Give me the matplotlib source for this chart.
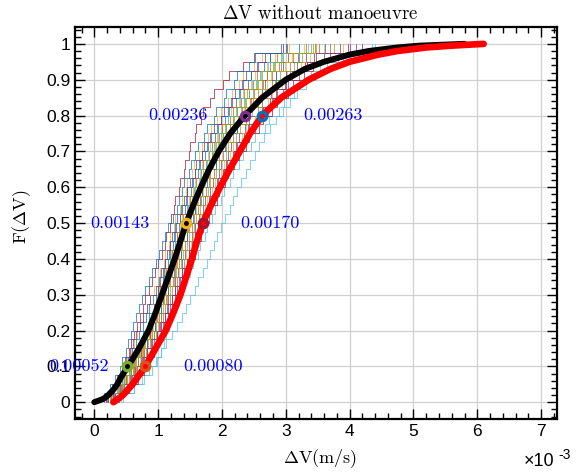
import numpy as np
import matplotlib
matplotlib.use("Agg")
import matplotlib.pyplot as plt

plt.rcParams["mathtext.fontset"] = "cm"

# x in units of 1e-3 m/s; thin ECDF samples stored in hundredths of 1e-3
matlab_colors = ["#0072BD", "#D95319", "#EDB120", "#7E2F8E",
                 "#77AC30", "#4DBEEE", "#A2142F"]

runs = [
    [22, 37, 44, 55, 58, 65, 74, 77, 84, 86, 93, 97, 100, 107, 109, 115, 118, 124, 126, 132, 135, 142, 145, 151, 155, 163, 166, 174, 178, 189, 194, 205, 211, 222, 229, 241, 246, 266, 276, 320],
    [29, 39, 51, 60, 65, 74, 79, 88, 91, 98, 101, 109, 111, 118, 121, 128, 131, 137, 140, 147, 150, 157, 161, 168, 172, 180, 186, 191, 200, 207, 218, 225, 236, 244, 257, 263, 278, 290, 312, 345],
    [19, 30, 38, 45, 51, 57, 62, 67, 72, 77, 82, 88, 94, 100, 103, 109, 111, 117, 119, 125, 127, 134, 137, 143, 146, 153, 156, 164, 168, 178, 183, 193, 198, 210, 215, 227, 233, 250, 262, 305],
    [31, 42, 55, 62, 73, 78, 88, 93, 101, 104, 111, 115, 122, 127, 131, 138, 142, 148, 153, 157, 164, 170, 174, 182, 186, 195, 199, 209, 214, 226, 236, 243, 256, 263, 277, 284, 300, 318, 332, 385],
    [27, 37, 49, 56, 61, 70, 77, 82, 88, 93, 96, 103, 105, 112, 117, 120, 126, 130, 133, 140, 144, 147, 155, 158, 165, 171, 175, 184, 188, 199, 205, 217, 222, 235, 240, 254, 260, 280, 292, 340],
    [45, 62, 75, 86, 96, 104, 113, 122, 130, 138, 144, 150, 157, 163, 170, 176, 182, 188, 193, 199, 205, 212, 218, 224, 230, 237, 244, 251, 258, 266, 275, 285, 295, 306, 318, 332, 347, 365, 390, 440],
    [32, 44, 57, 64, 76, 81, 91, 96, 104, 108, 115, 119, 127, 130, 138, 141, 149, 153, 157, 165, 168, 176, 180, 189, 193, 201, 206, 217, 222, 235, 241, 255, 262, 276, 284, 299, 306, 330, 344, 398],
    [22, 31, 40, 47, 53, 59, 65, 70, 76, 81, 86, 92, 100, 102, 108, 111, 117, 119, 125, 127, 134, 136, 144, 146, 153, 157, 164, 168, 176, 182, 192, 198, 209, 214, 226, 231, 245, 255, 276, 302],
    [27, 43, 51, 61, 68, 77, 82, 91, 95, 102, 105, 112, 115, 123, 126, 133, 136, 142, 146, 153, 156, 163, 167, 175, 179, 187, 191, 201, 206, 218, 224, 237, 243, 257, 263, 278, 285, 306, 320, 370],
    [24, 38, 45, 54, 60, 68, 73, 81, 84, 90, 93, 99, 102, 109, 111, 118, 120, 126, 129, 135, 138, 145, 148, 155, 158, 166, 169, 178, 182, 193, 198, 210, 214, 227, 233, 246, 252, 271, 283, 328],
    [33, 45, 59, 66, 78, 83, 93, 99, 107, 111, 118, 122, 130, 134, 141, 145, 153, 155, 163, 167, 175, 178, 187, 191, 200, 205, 214, 220, 231, 237, 252, 258, 272, 280, 295, 303, 320, 333, 360, 410],
    [28, 38, 50, 55, 65, 70, 79, 83, 90, 93, 100, 103, 110, 112, 119, 122, 129, 131, 138, 141, 147, 150, 158, 161, 169, 173, 180, 185, 194, 201, 212, 217, 230, 236, 249, 255, 270, 281, 304, 347],
    [42, 62, 78, 90, 98, 105, 109, 113, 117, 121, 126, 130, 138, 142, 150, 154, 162, 165, 173, 177, 185, 189, 199, 203, 212, 217, 227, 233, 245, 252, 267, 274, 289, 297, 313, 321, 340, 353, 382, 435],
    [18, 27, 36, 43, 48, 54, 58, 63, 67, 71, 76, 80, 85, 90, 95, 100, 106, 111, 113, 118, 120, 125, 127, 132, 134, 140, 142, 148, 150, 157, 160, 167, 171, 182, 188, 202, 211, 233, 250, 296],
    [30, 40, 52, 58, 68, 73, 83, 88, 95, 98, 105, 108, 115, 118, 125, 129, 136, 138, 145, 148, 155, 158, 166, 169, 177, 182, 190, 195, 205, 210, 223, 229, 242, 248, 262, 268, 284, 295, 319, 362],
    [26, 36, 46, 55, 62, 67, 75, 80, 85, 91, 94, 101, 103, 110, 112, 119, 122, 127, 130, 137, 139, 146, 150, 156, 160, 167, 171, 180, 184, 195, 200, 212, 217, 230, 235, 248, 255, 275, 286, 331],
    [29, 45, 54, 65, 72, 81, 87, 97, 100, 108, 111, 119, 122, 130, 133, 141, 144, 151, 154, 162, 165, 173, 177, 185, 189, 198, 203, 213, 218, 231, 237, 251, 257, 272, 279, 294, 302, 324, 338, 390],
    [20, 29, 37, 44, 50, 56, 61, 66, 71, 77, 82, 88, 96, 103, 105, 111, 114, 119, 122, 128, 130, 137, 140, 146, 150, 157, 160, 168, 172, 183, 187, 199, 203, 215, 220, 233, 238, 257, 268, 300],
    [28, 43, 52, 62, 69, 78, 84, 93, 97, 104, 107, 114, 118, 125, 128, 136, 139, 145, 148, 156, 159, 166, 171, 178, 182, 191, 195, 206, 210, 222, 228, 242, 247, 262, 268, 283, 291, 313, 326, 376],
    [27, 37, 48, 54, 63, 68, 76, 81, 87, 90, 97, 100, 106, 109, 116, 118, 125, 127, 134, 136, 143, 146, 153, 156, 164, 167, 175, 179, 189, 194, 206, 210, 223, 228, 242, 247, 261, 272, 294, 335],
    [38, 55, 68, 78, 86, 93, 99, 104, 110, 115, 121, 126, 133, 137, 145, 149, 157, 159, 167, 171, 179, 183, 192, 196, 205, 210, 219, 226, 237, 243, 258, 265, 279, 287, 303, 311, 328, 342, 370, 420],
    [15, 24, 32, 40, 44, 49, 53, 57, 61, 66, 70, 75, 80, 86, 91, 96, 101, 106, 111, 116, 123, 129, 132, 138, 141, 148, 151, 158, 162, 172, 177, 187, 191, 203, 207, 219, 224, 242, 251, 292],
    [26, 41, 49, 58, 64, 73, 78, 87, 90, 97, 100, 107, 110, 117, 120, 127, 130, 136, 139, 146, 148, 155, 159, 166, 170, 178, 182, 191, 196, 208, 213, 226, 231, 245, 250, 264, 271, 292, 304, 352],
    [28, 39, 52, 60, 66, 75, 80, 89, 92, 99, 102, 109, 112, 119, 122, 129, 132, 138, 141, 148, 152, 159, 163, 170, 174, 182, 186, 196, 200, 212, 217, 230, 235, 249, 256, 270, 277, 298, 310, 360],
    [30, 46, 56, 67, 74, 83, 89, 99, 103, 111, 114, 122, 126, 133, 137, 145, 148, 155, 158, 166, 170, 177, 182, 190, 194, 203, 208, 219, 224, 237, 243, 257, 264, 279, 286, 301, 310, 333, 347, 400],
    [25, 39, 47, 57, 62, 71, 76, 85, 87, 94, 97, 104, 107, 113, 116, 123, 126, 132, 134, 141, 144, 151, 155, 161, 165, 173, 177, 186, 190, 202, 206, 219, 224, 237, 243, 256, 263, 283, 295, 342],
]

# fitted CDF without manoeuvre (black) and reference CDF (red)
black_x = [0.0, 0.08, 0.15, 0.22, 0.30, 0.36, 0.42, 0.53, 0.70, 0.85, 0.96, 1.06,
           1.16, 1.26, 1.35, 1.44, 1.55, 1.67, 1.80, 1.95, 2.13, 2.36, 2.63, 3.00,
           3.30, 3.60, 4.00, 4.30, 4.75, 5.10, 5.80]
black_f = [0.0, 0.005, 0.01, 0.02, 0.035, 0.05, 0.07, 0.10, 0.15, 0.20, 0.25, 0.30,
           0.35, 0.40, 0.45, 0.50, 0.55, 0.60, 0.65, 0.70, 0.75, 0.80, 0.85, 0.90,
           0.93, 0.95, 0.97, 0.98, 0.99, 0.995, 1.0]
red_x = [0.30, 0.38, 0.45, 0.60, 0.80, 0.96, 1.12, 1.24, 1.35, 1.44, 1.53, 1.61,
         1.70, 1.83, 1.97, 2.12, 2.28, 2.44, 2.63, 2.93, 3.36, 3.70, 4.00, 4.45,
         4.75, 5.20, 5.60, 6.10]
red_f = [0.0, 0.01, 0.02, 0.05, 0.10, 0.15, 0.20, 0.25, 0.30, 0.35, 0.40, 0.45,
         0.50, 0.55, 0.60, 0.65, 0.70, 0.75, 0.80, 0.85, 0.90, 0.93, 0.95, 0.97,
         0.98, 0.99, 0.995, 1.0]

# quantile markers and their labels
mark_x = [0.52, 0.80, 1.43, 1.70, 2.36, 2.63]
mark_f = [0.1, 0.1, 0.5, 0.5, 0.8, 0.8]
mark_c = ["#77AC30", "#D95319", "#EDB120", "#A2142F", "#7E2F8E", "#0072BD"]
mark_lbl = ["0.00052", "0.00080", "0.00143", "0.00170", "0.00236", "0.00263"]
lbl_x = [0.23, 1.40, 0.86, 2.29, 1.77, 3.27]
lbl_ha = ["right", "left", "right", "left", "right", "left"]

fig = plt.figure(figsize=(5.87, 4.74), dpi=100)
ax = fig.add_axes([0.128, 0.116, 0.821, 0.827])

for i, r in enumerate(runs):
    xs = np.sort(np.array(r)) / 100.0
    n = len(xs)
    fx = np.concatenate([[xs[0]], xs])
    fy = np.concatenate([[0.0], np.arange(1, n + 1) / n])
    ax.plot(fx, fy, drawstyle="steps-post", lw=0.5,
            color=matlab_colors[i % len(matlab_colors)], zorder=2)

ax.plot(black_x, black_f, color="black", lw=4.3, solid_capstyle="round", zorder=3)
ax.plot(red_x, red_f, color="#FF0000", lw=4.8, solid_capstyle="round", zorder=4)

for x, f, c in zip(mark_x, mark_f, mark_c):
    ax.plot(x, f, "o", ms=6.0, mfc="none", mec=c, mew=2.4, zorder=5)

for x, f, s, ha in zip(lbl_x, mark_f, mark_lbl, lbl_ha):
    ax.text(x, f, s, color="#0000FF", fontsize=13, family="cmr10",
            ha=ha, va="center", zorder=6)

ax.set_xlim(-0.3, 7.25)
ax.set_ylim(-0.047, 1.047)
ax.set_xticks(np.arange(0, 8))
ax.set_xticklabels([str(v) for v in range(8)])
ax.set_yticks(np.arange(0, 11) / 10)
ax.set_yticklabels(["0"] + ["%.1f" % v for v in np.arange(1, 10) / 10] + ["1"])
ax.set_xticks(np.arange(-0.2, 7.25, 0.2), minor=True)
ax.set_yticks(np.arange(-0.04, 1.05, 0.02), minor=True)
ax.tick_params(which="both", direction="in", top=True, right=True,
               labelsize=12.5, color="black", width=1.0)
ax.tick_params(which="major", length=7)
ax.tick_params(which="minor", length=4)
for lab in ax.get_xticklabels() + ax.get_yticklabels():
    lab.set_family("Liberation Sans")
ax.grid(True, which="major", color="#d0d0d0", lw=0.9)
ax.set_axisbelow(True)
for sp in ax.spines.values():
    sp.set_linewidth(1.6)

ax.set_title(r"$\Delta$V without manoeuvre", fontsize=13.5, family="cmr10",
             x=0.508, pad=6)
ax.set_xlabel(r"$\Delta$V(m/s)", fontsize=13, family="cmr10")
ax.xaxis.set_label_coords(0.508, -0.072)
ax.set_ylabel(r"F($\Delta$V)", fontsize=13, family="cmr10")
ax.yaxis.set_label_coords(-0.087, 0.515)

fig.text(0.893, 0.016, "\u00d710", fontsize=13, family="Liberation Sans")
fig.text(0.952, 0.032, "-3", fontsize=10, family="Liberation Sans")

fig.savefig("out.png", dpi=100)
